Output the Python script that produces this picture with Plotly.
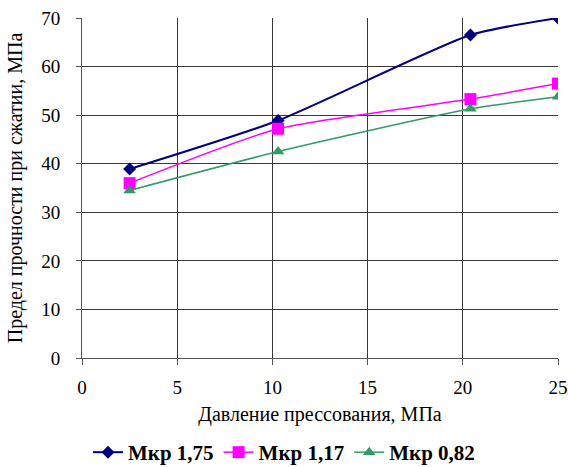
import plotly.graph_objects as go

x_vals = [2.5, 10.3, 20.4, 25]
mkr_175 = [38.9, 48.9, 66.5, 70.0]
mkr_117 = [36.0, 47.2, 53.3, 56.5]
mkr_082 = [34.5, 42.5, 51.3, 53.8]
names = ["Мкр 1,75", "Мкр 1,17", "Мкр 0,82"]
colors = ["#000080", "#FF00FF", "#339966"]
symbols = ["diamond", "square", "triangle-up"]
sizes = [10, 12, 11]
widths = [2, 1.5, 1.5]

fig = go.Figure()
for ys, n, c, s, sz, w in zip([mkr_175, mkr_117, mkr_082], names, colors, symbols, sizes, widths):
    fig.add_trace(go.Scatter(x=x_vals, y=ys, name=n, mode="lines+markers",
                             line=dict(color=c, width=w, shape="spline", smoothing=0.6),
                             marker=dict(symbol=s, size=sz, color=c)))

font = "Liberation Serif"
fig.update_layout(
    width=568, height=467,
    margin=dict(l=82, r=10, t=18, b=109, autoexpand=False),
    paper_bgcolor="white", plot_bgcolor="white",
    font=dict(family=font, size=19, color="black"),
    showlegend=True,
    legend=dict(orientation="h", x=0.5, xanchor="center", xref="container",
                y=-0.278, yref="paper", yanchor="middle",
                font=dict(family=font, size=21, color="black", weight="bold"),
                tracegroupgap=0),
)
fig.update_xaxes(range=[0, 25], dtick=5, showgrid=True, gridcolor="#383838", gridwidth=1,
                 showline=True, linecolor="#555555", mirror=False, automargin=False,
                 ticks="outside", ticklen=6, tickcolor="#555555", ticklabelstandoff=6,
                 tickfont=dict(family=font, size=19),
                 title=dict(text="Давление прессования, МПа", font=dict(family=font, size=20), standoff=10),
                 zeroline=False)
fig.update_yaxes(range=[0, 70], dtick=10, showgrid=True, gridcolor="#383838", gridwidth=1,
                 showline=True, linecolor="#555555", automargin=False,
                 ticks="outside", ticklen=5, tickcolor="#555555", ticklabelstandoff=12,
                 tickfont=dict(family=font, size=19),
                 title=dict(text="Предел прочности при сжатии, МПа", font=dict(family=font, size=20), standoff=13),
                 zeroline=False)
fig.write_html("out.html", config={"displayModeBar": False},
               post_script="document.body.style.margin='0';document.body.style.overflow='hidden';")
